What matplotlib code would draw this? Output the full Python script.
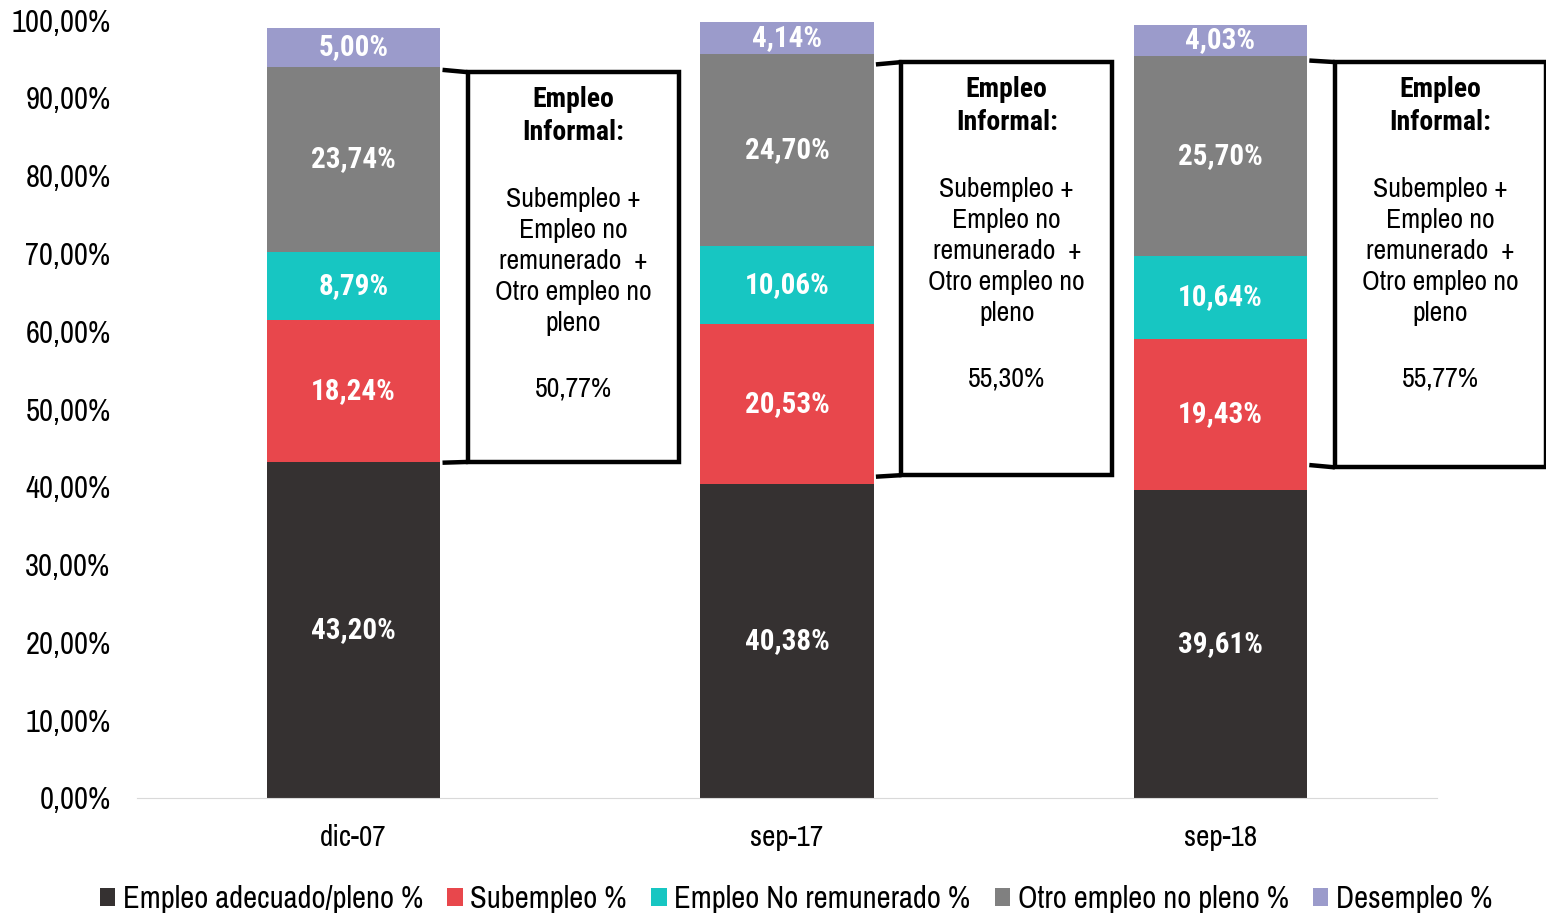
import numpy as np
import matplotlib
matplotlib.use("Agg")
import matplotlib.pyplot as plt
from matplotlib.patches import Rectangle

plt.rcParams['font.family'] = ['Archivo Narrow', 'DejaVu Sans']
BOLD_FONT = ['Roboto Condensed', 'DejaVu Sans']

periods = ["dic-07", "sep-17", "sep-18"]
series = ["Empleo adecuado/pleno %", "Subempleo %", "Empleo No remunerado %",
          "Otro empleo no pleno %", "Desempleo %"]
adecuado = [43.20, 40.38, 39.61]
subempleo = [18.24, 20.53, 19.43]
no_remunerado = [8.79, 10.06, 10.64]
otro_no_pleno = [23.74, 24.70, 25.70]
desempleo = [5.00, 4.14, 4.03]
informal_total = ["50,77%", "55,30%", "55,77%"]

colors = ["#353131", "#E8474C", "#17C6C2", "#808080", "#9B9BCB"]


def pct(v):
    return f"{v:.2f}%".replace(".", ",")


fig = plt.figure(figsize=(15.46, 9.13), dpi=100)
ax = fig.add_axes([0.0886, 0.126, 0.841, 0.852])

x = np.arange(len(periods))
width = 0.4
bottom = np.zeros(len(periods))
for name, vals, col in zip(series, [adecuado, subempleo, no_remunerado, otro_no_pleno, desempleo], colors):
    vals = np.array(vals)
    ax.bar(x, vals, width, bottom=bottom, color=col, label=name, zorder=2)
    for xi, b, v in zip(x, bottom, vals):
        ax.text(xi, b + v / 2, pct(v), ha="center", va="center",
                color="white", fontsize=21, fontweight="bold", family=BOLD_FONT)
    bottom += vals

# bracket + box next to each bar (informal employment)
box_top = [93.3, 94.6, 94.6]
box_bot = [43.2, 41.5, 42.5]
brk_top = [93.6, 94.3, 94.8]
brk_bot = [43.1, 41.3, 42.8]
for i in range(len(periods)):
    x0, x1 = x[i] + 0.264, x[i] + 0.75
    ax.add_patch(Rectangle((x0, box_bot[i]), x1 - x0, box_top[i] - box_bot[i], fill=False,
                           edgecolor="black", lw=3.2, clip_on=False, zorder=3))
    ax.plot([x[i] + 0.205, x0], [brk_top[i], box_top[i]], color="black", lw=3.2, zorder=3,
            solid_capstyle="butt", clip_on=False)
    ax.plot([x[i] + 0.205, x0], [brk_bot[i], box_bot[i]], color="black", lw=3.2, zorder=3,
            solid_capstyle="butt", clip_on=False)
    xc = (x0 + x1) / 2
    ax.text(xc, box_top[i] - 5.66, "Empleo\nInformal:", ha="center", va="center",
            fontsize=20, fontweight="bold", family=BOLD_FONT, linespacing=1.3)
    ax.text(xc, box_top[i] - 24.3, "Subempleo +\nEmpleo no\nremunerado  +\nOtro empleo no\npleno",
            ha="center", va="center", fontsize=20, linespacing=1.3)
    ax.text(xc, box_top[i] - 40.7, informal_total[i], ha="center", va="center", fontsize=20)

ax.set_xlim(-0.5, 2.5)
ax.set_ylim(0, 100)
yt = np.arange(0, 101, 10)
ax.set_yticks(yt)
ax.set_yticklabels([pct(v) for v in yt], fontsize=22)
ax.set_xticks(x)
ax.set_xticklabels(periods, fontsize=21)
ax.tick_params(axis="both", length=0)
ax.tick_params(axis="y", pad=19)
ax.tick_params(axis="x", pad=19)
for s in ["top", "right", "left"]:
    ax.spines[s].set_visible(False)
ax.spines["bottom"].set_color("#D9D9D9")

fig.legend(loc="lower center", bbox_to_anchor=(0.515, -0.03), ncol=5, frameon=False, fontsize=22,
           handlelength=0.5, handleheight=0.5, handletextpad=0.25, columnspacing=0.8)

fig.savefig("out.png", dpi=100)
